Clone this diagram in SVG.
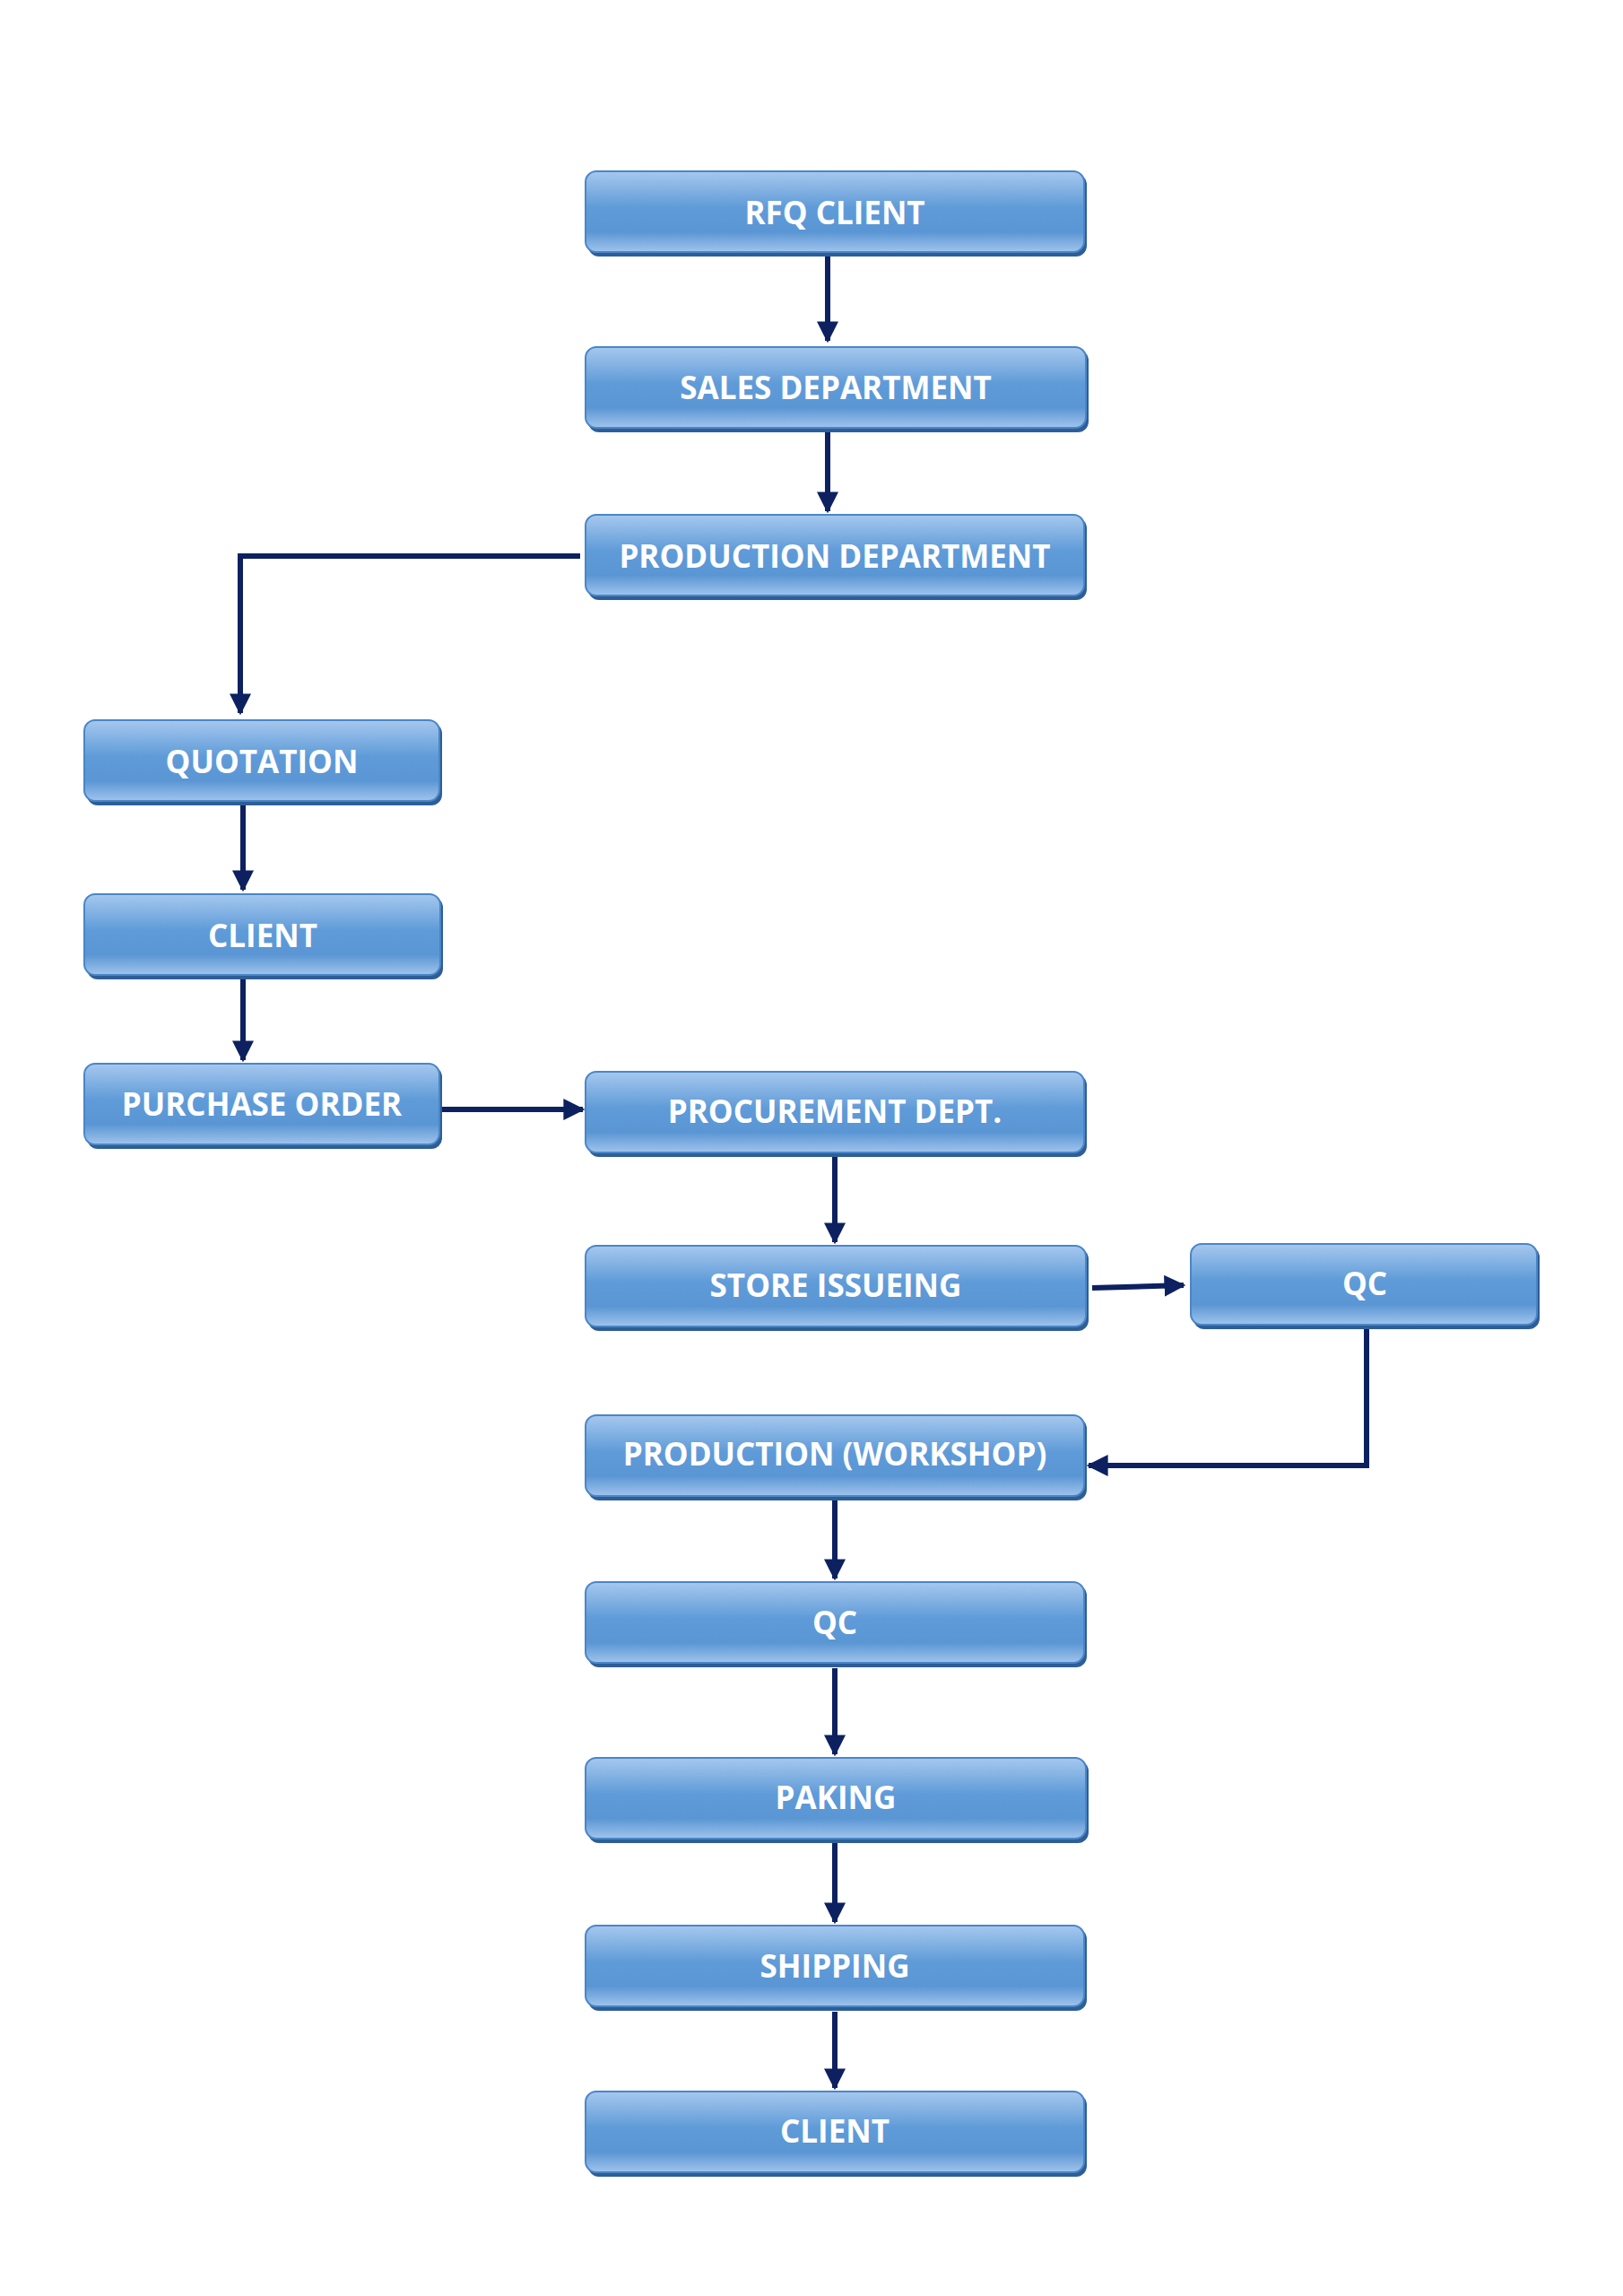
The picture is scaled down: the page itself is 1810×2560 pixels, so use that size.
<svg xmlns="http://www.w3.org/2000/svg" width="1810" height="2560" viewBox="0 0 1810 2560">
<defs>
<linearGradient id="g" x1="0" y1="0" x2="0" y2="1">
<stop offset="0" stop-color="#a6c8ee"/><stop offset="0.45" stop-color="#5f9bd8"/><stop offset="0.75" stop-color="#5a96d4"/><stop offset="1" stop-color="#a0c4ec"/>
</linearGradient>
<marker id="a" viewBox="0 0 10 10" refX="9" refY="5" markerWidth="4" markerHeight="4" orient="auto"><path d="M0,0 L10,5 L0,10 z" fill="#0d2160"/></marker>
</defs>
<style>
.n rect.s{fill:#2e5e97}
.n rect.b{fill:url(#g);stroke:#4a86c8;stroke-width:2}
.n text{font-family:"Open Sans","Liberation Sans",sans-serif;font-weight:bold;font-size:35px;fill:#fff;text-anchor:middle;dominant-baseline:central}
.c path{fill:none;stroke:#0d2160;stroke-width:6;marker-end:url(#a)}
</style>
<rect width="1810" height="2560" fill="#fff"/>
<g class="c">
<path d="M923 283 V380"/>
<path d="M923 479 V570"/>
<path d="M647 620 H268 V795"/>
<path d="M271 897 V992"/>
<path d="M271 1091 V1182"/>
<path d="M492 1237 H650"/>
<path d="M931 1290 V1385"/>
<path d="M1218 1436 L1320 1433"/>
<path d="M1524 1481 V1634 H1214"/>
<path d="M931 1672 V1760"/>
<path d="M931 1860 V1956"/>
<path d="M931 2052 V2143"/>
<path d="M931 2243 V2328"/>
</g>
<g id="n1" class="n"><rect class="s" x="656" y="194" width="556" height="92" rx="12"/><rect class="b" x="653" y="191" width="556" height="90" rx="12"/><text x="931" y="236">RFQ CLIENT</text></g>
<g id="n2" class="n"><rect class="s" x="656" y="390" width="558" height="92" rx="12"/><rect class="b" x="653" y="387" width="558" height="90" rx="12"/><text x="932" y="431">SALES DEPARTMENT</text></g>
<g id="n3" class="n"><rect class="s" x="656" y="577" width="556" height="92" rx="12"/><rect class="b" x="653" y="574" width="556" height="90" rx="12"/><text x="931" y="619">PRODUCTION DEPARTMENT</text></g>
<g id="n4" class="n"><rect class="s" x="97" y="806" width="396" height="92" rx="12"/><rect class="b" x="94" y="803" width="396" height="90" rx="12"/><text x="292" y="848">QUOTATION</text></g>
<g id="n5" class="n"><rect class="s" x="97" y="1000" width="397" height="92" rx="12"/><rect class="b" x="94" y="997" width="397" height="90" rx="12"/><text x="293" y="1042">CLIENT</text></g>
<g id="n6" class="n"><rect class="s" x="97" y="1189" width="396" height="92" rx="12"/><rect class="b" x="94" y="1186" width="396" height="90" rx="12"/><text x="292" y="1230">PURCHASE ORDER</text></g>
<g id="n7" class="n"><rect class="s" x="656" y="1198" width="556" height="92" rx="12"/><rect class="b" x="653" y="1195" width="556" height="90" rx="12"/><text x="931" y="1238">PROCUREMENT DEPT.</text></g>
<g id="n8" class="n"><rect class="s" x="656" y="1392" width="558" height="92" rx="12"/><rect class="b" x="653" y="1389" width="558" height="90" rx="12"/><text x="932" y="1432">STORE ISSUEING</text></g>
<g id="n9" class="n"><rect class="s" x="1331" y="1390" width="386" height="92" rx="12"/><rect class="b" x="1328" y="1387" width="386" height="90" rx="12"/><text x="1522" y="1430">QC</text></g>
<g id="n10" class="n"><rect class="s" x="656" y="1581" width="556" height="92" rx="12"/><rect class="b" x="653" y="1578" width="556" height="90" rx="12"/><text x="931" y="1620">PRODUCTION (WORKSHOP)</text></g>
<g id="n11" class="n"><rect class="s" x="656" y="1767" width="556" height="92" rx="12"/><rect class="b" x="653" y="1764" width="556" height="90" rx="12"/><text x="931" y="1808">QC</text></g>
<g id="n12" class="n"><rect class="s" x="656" y="1963" width="558" height="92" rx="12"/><rect class="b" x="653" y="1960" width="558" height="90" rx="12"/><text x="932" y="2003">PAKING</text></g>
<g id="n13" class="n"><rect class="s" x="656" y="2150" width="556" height="92" rx="12"/><rect class="b" x="653" y="2147" width="556" height="90" rx="12"/><text x="931" y="2191">SHIPPING</text></g>
<g id="n14" class="n"><rect class="s" x="656" y="2335" width="556" height="92" rx="12"/><rect class="b" x="653" y="2332" width="556" height="90" rx="12"/><text x="931" y="2375">CLIENT</text></g>
</svg>
